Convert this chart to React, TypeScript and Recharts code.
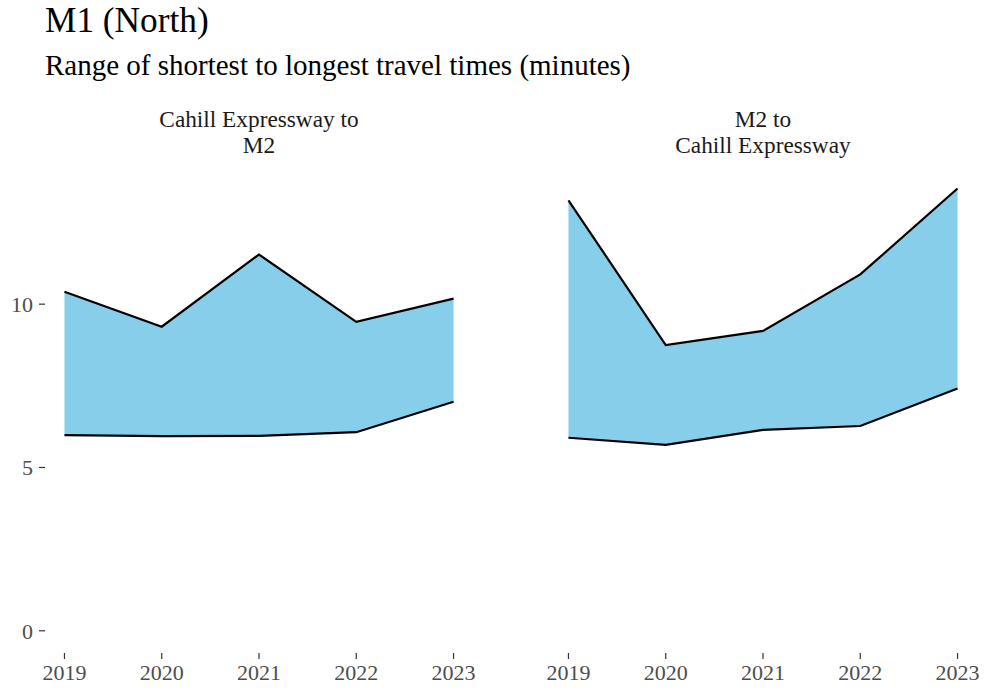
import { ComposedChart, Area, Line, XAxis, YAxis } from "recharts";

const years = [2019, 2020, 2021, 2022, 2023];
const yTicks = [0, 5, 10];

// Cahill Expressway to M2
const cahillToM2Min = [5.99, 5.96, 5.97, 6.08, 7.01];
const cahillToM2Max = [10.38, 9.31, 11.52, 9.46, 10.17];

// M2 to Cahill Expressway
const m2ToCahillMin = [5.91, 5.69, 6.15, 6.27, 7.42];
const m2ToCahillMax = [13.18, 8.75, 9.18, 10.91, 13.54];

const FONT = '"Liberation Serif", "Times New Roman", serif';
const FILL = "#87CEEB";
const Y_DOMAIN: [number, number] = [-0.68, 14.23];
const X_DOMAIN: [number, number] = [2018.8, 2023.2];

const buildRows = (mins: number[], maxs: number[]) =>
  years.map((year, i) => ({
    year,
    min: mins[i],
    max: maxs[i],
    range: [mins[i], maxs[i]],
  }));

interface PanelProps {
  rows: ReturnType<typeof buildRows>;
  showY: boolean;
  left: number;
  lines: string[];
}

function Panel({ rows, showY, left, lines }: PanelProps) {
  const yAxisW = showY ? 45 : 0;
  const padL = showY ? 0 : 30;
  const plotW = 428;
  const offset = yAxisW + padL;
  const width = offset + plotW + 10;
  return (
    <div style={{ position: "absolute", left: left - offset, top: 0 }}>
      <div
        style={{
          position: "absolute",
          left: offset,
          top: 106,
          width: plotW,
          textAlign: "center",
          fontFamily: FONT,
          fontSize: 23.3,
          lineHeight: "26px",
          color: "#1a1a1a",
        }}
      >
        {lines.map((l) => (
          <div key={l}>{l}</div>
        ))}
      </div>
      <ComposedChart
        width={width}
        height={693}
        data={rows}
        margin={{ top: 166, right: 10, bottom: 0, left: padL }}
      >
        <XAxis
          dataKey="year"
          type="number"
          domain={X_DOMAIN}
          ticks={years}
          interval={0}
          allowDataOverflow
          height={40}
          axisLine={false}
          tickSize={6}
          tickMargin={5}
          tickLine={{ stroke: "#333333", strokeWidth: 1.2 }}
          tick={{ fill: "#4d4d4d", fontSize: 22, fontFamily: FONT }}
        />
        <YAxis
          type="number"
          domain={Y_DOMAIN}
          ticks={yTicks}
          allowDataOverflow
          hide={!showY}
          width={yAxisW}
          axisLine={false}
          tickSize={6}
          tickMargin={6}
          tickLine={{ stroke: "#333333", strokeWidth: 1.2 }}
          tick={{ fill: "#4d4d4d", fontSize: 22, fontFamily: FONT }}
        />
        <Area
          dataKey="range"
          type="linear"
          fill={FILL}
          fillOpacity={1}
          stroke="none"
          isAnimationActive={false}
        />
        <Line
          dataKey="max"
          type="linear"
          stroke="#000000"
          strokeWidth={2.2}
          dot={false}
          isAnimationActive={false}
        />
        <Line
          dataKey="min"
          type="linear"
          stroke="#000000"
          strokeWidth={2.2}
          dot={false}
          isAnimationActive={false}
        />
      </ComposedChart>
    </div>
  );
}

export default function App() {
  return (
    <div
      style={{
        position: "absolute",
        left: 0,
        top: 0,
        width: 985,
        height: 693,
        background: "#ffffff",
        overflow: "hidden",
      }}
    >
      <div
        style={{
          position: "absolute",
          left: 45,
          top: 1,
          fontFamily: FONT,
          fontSize: 35.3,
          color: "#000000",
          lineHeight: "40px",
        }}
      >
        M1 (North)
      </div>
      <div
        style={{
          position: "absolute",
          left: 45,
          top: 48,
          fontFamily: FONT,
          fontSize: 29,
          color: "#000000",
          lineHeight: "34px",
        }}
      >
        Range of shortest to longest travel times (minutes)
      </div>
      <Panel
        rows={buildRows(cahillToM2Min, cahillToM2Max)}
        showY
        left={45}
        lines={["Cahill Expressway to", "M2"]}
      />
      <Panel
        rows={buildRows(m2ToCahillMin, m2ToCahillMax)}
        showY={false}
        left={549}
        lines={["M2 to", "Cahill Expressway"]}
      />
    </div>
  );
}
